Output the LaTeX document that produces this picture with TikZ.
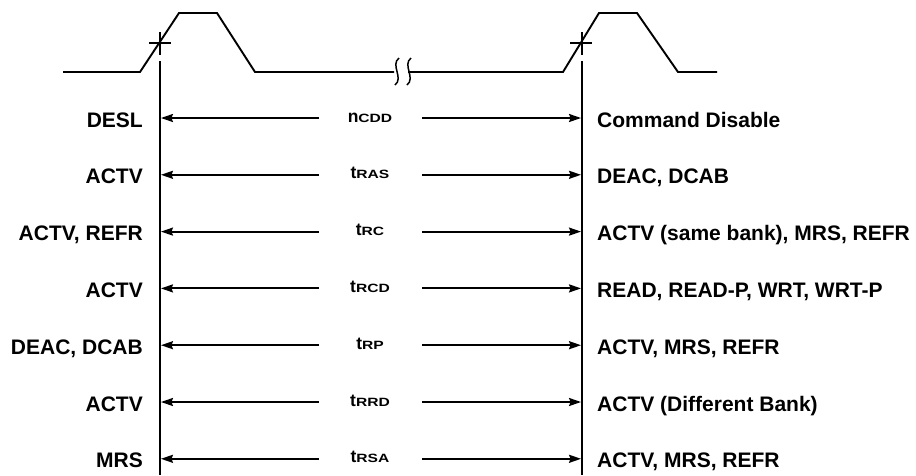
\documentclass[tikz,border=0pt]{standalone}
\usepackage{fontspec}
\usepackage{graphicx}
\setmainfont{Liberation Sans}
\usetikzlibrary{arrows.meta}
\newcommand\tlab[2]{{\bfseries\fontsize{17.5}{17.5}\selectfont #1}\scalebox{1.3}[1]{\bfseries\fontsize{12}{12}\selectfont #2}}
\tikzset{
  wave/.style={line width=1.9pt, line join=miter},
  vline/.style={line width=1.9pt},
  arr/.style={line width=1.9pt, -{Stealth[length=12pt,width=8pt,inset=1.5pt]}, shorten >=0.95pt},
  lbl/.style={font=\bfseries\fontsize{21}{21}\selectfont, inner sep=0pt},
  leftlbl/.style={lbl, anchor=base east},
  rightlbl/.style={lbl, anchor=base west},
  midlbl/.style={font=\bfseries, inner sep=0pt, anchor=base},
}
\newcommand\mrow[5]{%
  \node[leftlbl] (l#1) at (143,#2+9) {#3};
  \node[midlbl] (m#1) at (370,#2+4) {#4};
  \node[rightlbl] (r#1) at (597,#2+9) {#5};
  \coordinate (a#1) at (319,#2);
  \coordinate (b#1) at (422,#2);
  \draw[arr] (a#1) -- (a#1 -| vl);
  \draw[arr] (b#1) -- (b#1 -| vr);
}
\begin{document}
\begin{tikzpicture}[x=1pt,y=-1pt]
\useasboundingbox (0,0) rectangle (916,475);
% waveform
\draw[wave] (63,72) -- (140,72) -- (179,13) -- (217,13) -- (255,72) -- (394,72);
\draw[wave] (408,72) -- (563,72) -- (599,13) -- (637,13) -- (678,72) -- (717,72);
% break marks
\draw[line width=1.5pt] (399,58) .. controls (390,65) and (404,78) .. (395,85);
\draw[line width=1.5pt] (411,58) .. controls (402,65) and (416,78) .. (407,85);
% vertical reference lines
\coordinate (vl) at (160,0);
\coordinate (vr) at (582,0);
\draw[vline] (160,32) -- (160,55);
\draw[vline] (160,61) -- (160,475);
\draw[vline] (582,32) -- (582,55);
\draw[vline] (582,61) -- (582,475);
\draw[vline] (149,43) -- (171,43);
\draw[vline] (570,43) -- (592,43);
% rows
\mrow{1}{118}{DESL}{\tlab{n}{CDD}}{Command Disable}
\mrow{2}{174.8}{ACTV}{\tlab{t}{RAS}}{DEAC, DCAB}
\mrow{3}{231.6}{ACTV, REFR}{\tlab{t}{RC}}{ACTV (same bank), MRS, REFR}
\mrow{4}{288.4}{ACTV}{\tlab{t}{RCD}}{READ, READ-P, WRT, WRT-P}
\mrow{5}{345.2}{DEAC, DCAB}{\tlab{t}{RP}}{ACTV, MRS, REFR}
\mrow{6}{402}{ACTV}{\tlab{t}{RRD}}{ACTV (Different Bank)}
\mrow{7}{458.8}{MRS}{\tlab{t}{RSA}}{ACTV, MRS, REFR}
\end{tikzpicture}
\end{document}
